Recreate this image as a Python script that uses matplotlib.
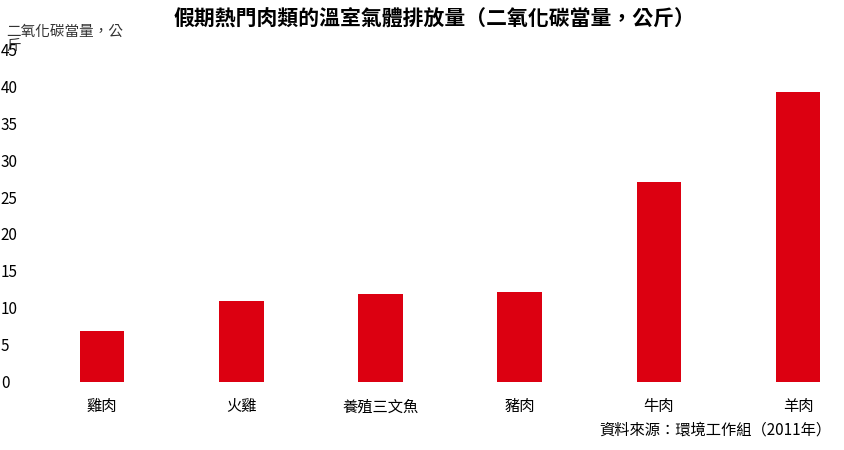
import matplotlib
matplotlib.use("Agg")
import matplotlib.pyplot as plt

plt.rcParams['font.family'] = ['Noto Sans CJK TC', 'DejaVu Sans']

categories = ['雞肉', '火雞', '養殖三文魚', '豬肉', '牛肉', '羊肉']
values = [6.9, 10.9, 11.9, 12.1, 27.0, 39.2]
yticks = [0, 5, 10, 15, 20, 25, 30, 35, 40, 45]

fig = plt.figure(figsize=(8.44, 4.5), dpi=100)
ax = fig.add_axes([0.05, 0.152, 0.945, 0.738])
ax.bar(range(len(categories)), values, width=0.32, color='#dc0011')
ax.set_xlim(-0.43, 5.3)
ax.set_ylim(0, 45)
ax.set_yticks(yticks)
ax.set_yticklabels([str(t) for t in yticks], fontsize=11)
ax.set_xticks(range(len(categories)))
ax.set_xticklabels(categories, fontsize=11)
for s in ax.spines.values():
    s.set_visible(False)
ax.tick_params(length=0, pad=12)
ax.tick_params(axis='y', pad=4)
for l in ax.get_yticklabels():
    l.set_horizontalalignment('left')
    l.set_x(-0.045)
fig.text(0.515, 0.958, '假期熱門肉類的溫室氣體排放量（二氧化碳當量，公斤）', ha='center', va='center', fontsize=15, fontweight='bold')
fig.text(0.007, 0.945, '二氧化碳當量，公\n斤', ha='left', va='top', fontsize=10.5, color='#333333', linespacing=1.0)
fig.text(0.985, 0.045, '資料來源：環境工作組（2011年）', ha='right', va='center', fontsize=11)
fig.savefig('out.png')
